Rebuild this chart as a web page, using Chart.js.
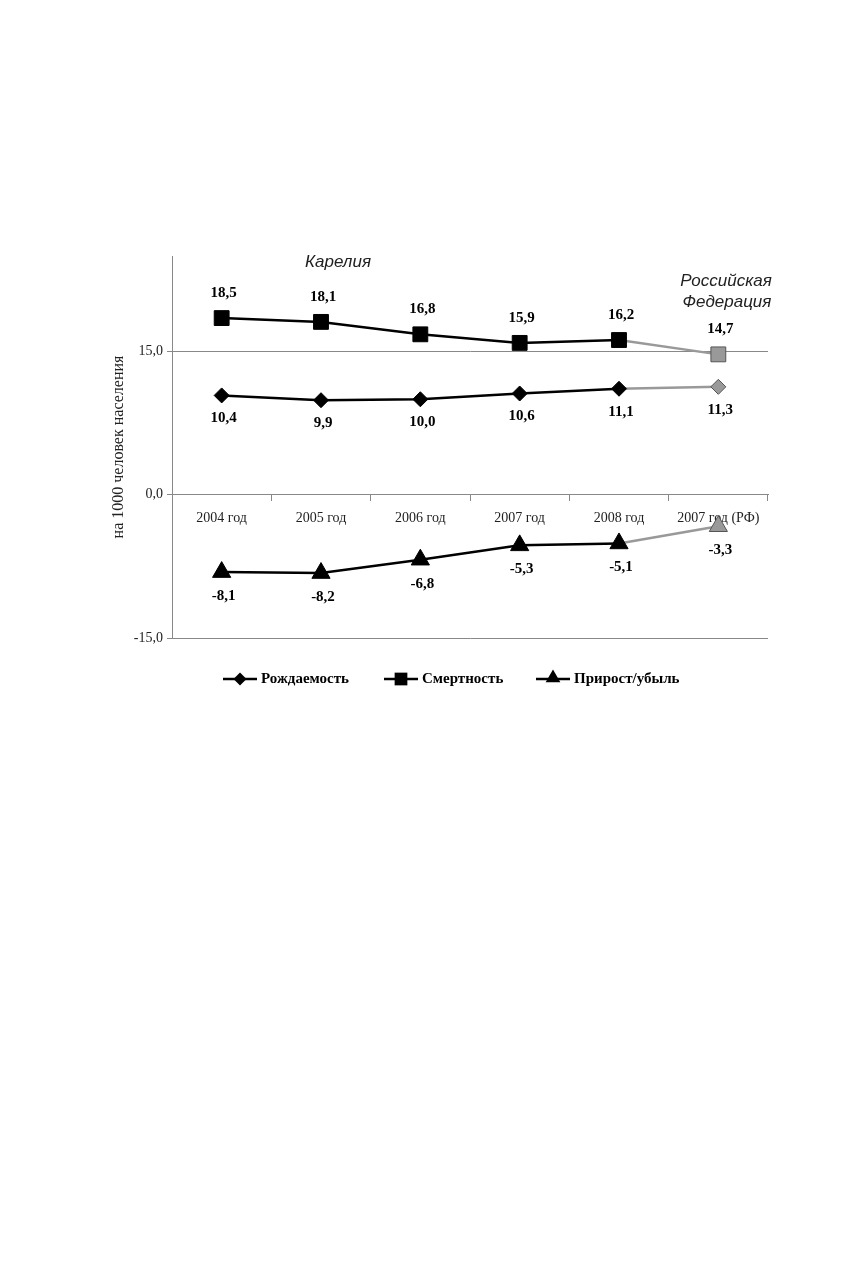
<!DOCTYPE html>
<html>
<head>
<meta charset="utf-8">
<script src="https://cdn.jsdelivr.net/npm/chart.js@4/dist/chart.umd.min.js"></script>
<style>
  html, body { margin: 0; padding: 0; background: #fff; }
  #wrap { position: absolute; left: 0; top: 0; width: 856px; height: 709px; }
</style>
</head>
<body>
<div id="wrap"><canvas id="chart"></canvas></div>
<script>
const categories = ['2004 год', '2005 год', '2006 год', '2007 год', '2008 год', '2007 год (РФ)'];
const birthRate = [10.4, 9.9, 10.0, 10.6, 11.1, 11.3];
const deathRate = [18.5, 18.1, 16.8, 15.9, 16.2, 14.7];
const naturalChange = [-8.1, -8.2, -6.8, -5.3, -5.1, -3.3];
const yTicks = [-15, 0, 15];
const seriesNames = ['Рождаемость', 'Смертность', 'Прирост/убыль'];

const BLACK = '#000';
const GREY = '#999';
const GREY_EDGE = '#555';
const SERIF = '"Liberation Serif", "Times New Roman", serif';
const SANS = '"Liberation Sans", Arial, sans-serif';

const fmt = v => v.toFixed(1).replace('.', ',');

// last point (Russia) is drawn grey
const lastIdx = categories.length - 1;
const pointFill = categories.map((c, i) => i === lastIdx ? GREY : BLACK);
const pointEdge = categories.map((c, i) => i === lastIdx ? GREY_EDGE : BLACK);

function series(label, data, style, radius, labelDy) {
    return {
        label: label,
        data: data,
        borderColor: BLACK,
        borderWidth: 2.5,
        pointStyle: style,
        pointRadius: radius,
        pointHoverRadius: radius,
        pointBackgroundColor: pointFill,
        pointBorderColor: pointEdge,
        pointBorderWidth: 1,
        tension: 0,
        labelDy: labelDy,
        segment: {
            borderColor: ctx => ctx.p1DataIndex === lastIdx ? GREY : BLACK
        }
    };
}

const valueLabels = {
    id: 'valueLabels',
    afterDatasetsDraw(chart) {
        const ctx = chart.ctx;
        ctx.save();
        ctx.font = 'bold 15px ' + SERIF;
        ctx.fillStyle = BLACK;
        ctx.textAlign = 'center';
        ctx.textBaseline = 'middle';
        chart.data.datasets.forEach((ds, di) => {
            chart.getDatasetMeta(di).data.forEach((pt, i) => {
                ctx.fillText(fmt(ds.data[i]), pt.x + 2, pt.y + ds.labelDy);
            });
        });

        // region captions
        ctx.font = 'italic 17px ' + SANS;
        ctx.fillStyle = '#222';
        ctx.fillText('Карелия', 338, 262);
        ctx.fillText('Российская', 726, 281);
        ctx.fillText('Федерация', 727, 302);
        ctx.restore();
    }
};

const legendRow = {
    id: 'legendRow',
    afterDraw(chart) {
        const ctx = chart.ctx;
        const y = 679;
        const items = [
            { x: 223, style: 'rectRot', r: 6.5 },
            { x: 384, style: 'rect', r: 9 },
            { x: 536, style: 'triangle', r: 8.5 }
        ];
        ctx.save();
        items.forEach((it, i) => {
            ctx.strokeStyle = BLACK;
            ctx.lineWidth = 2.5;
            ctx.beginPath();
            ctx.moveTo(it.x, y);
            ctx.lineTo(it.x + 34, y);
            ctx.stroke();
            ctx.fillStyle = BLACK;
            Chart.helpers.drawPoint(ctx, { pointStyle: it.style, radius: it.r, rotation: 0, borderWidth: 0 }, it.x + 17, it.style === 'triangle' ? y - 1 : y);
            ctx.font = 'bold 15px ' + SERIF;
            ctx.textAlign = 'left';
            ctx.textBaseline = 'middle';
            ctx.fillText(seriesNames[i], it.x + 38, y);
        });
        ctx.restore();
    }
};

new Chart(document.getElementById('chart'), {
    type: 'line',
    data: {
        labels: categories,
        datasets: [
            series(seriesNames[0], birthRate, 'rectRot', 7.5, 23),
            series(seriesNames[1], deathRate, 'rect', 10.5, -25),
            series(seriesNames[2], naturalChange, 'triangle', 10.5, 24)
        ]
    },
    options: {
        responsive: true,
        maintainAspectRatio: false,
        animation: false,
        events: [],
        layout: { padding: { top: 256, right: 88, bottom: 71, left: 0 } },
        plugins: {
            legend: { display: false },
            tooltip: { enabled: false }
        },
        scales: {
            x: {
                type: 'category',
                position: { y: 0 },
                offset: true,
                grid: {
                    offset: true,
                    drawOnChartArea: false,
                    drawTicks: true,
                    tickLength: 6,
                    color: '#888'
                },
                border: { display: true, color: '#888', width: 1 },
                ticks: {
                    color: '#222',
                    padding: 9,
                    maxRotation: 0,
                    autoSkip: false,
                    font: { family: SERIF, size: 14 }
                }
            },
            y: {
                min: -15,
                max: 25,
                afterBuildTicks: scale => { scale.ticks = yTicks.map(v => ({ value: v })); },
                afterFit: scale => { scale.width = 172; },
                grid: { color: '#888', tickLength: 5, drawTicks: true },
                border: { display: true, color: '#888', width: 1 },
                ticks: {
                    color: '#222',
                    padding: 4,
                    callback: v => fmt(v),
                    font: { family: SERIF, size: 14 }
                },
                title: {
                    display: true,
                    text: 'на 1000 человек населения',
                    color: '#222',
                    padding: { top: 109, bottom: 0 },
                    font: { family: SERIF, size: 16 }
                }
            }
        }
    },
    plugins: [valueLabels, legendRow]
});
</script>
</body>
</html>
